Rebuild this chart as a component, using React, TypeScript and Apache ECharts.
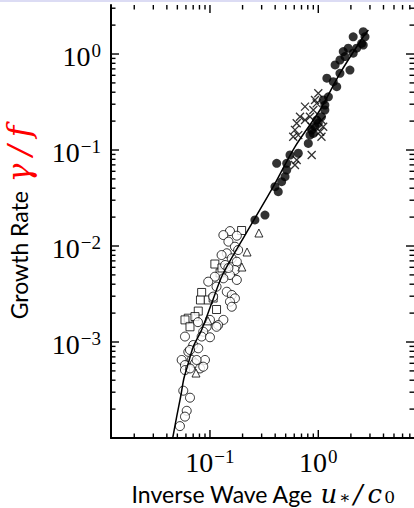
import React, { useEffect, useRef } from "react";
import * as echarts from "echarts";

// ---- axis extents (data units) ----
const X_MIN = 0.0122;
const X_MAX = 7.65;
const Y_MIN = 1e-4;
const Y_MAX = 3.24;

// ---- tick positions / labels ----
const xMajorTicks = [0.1, 1];
const xMinorTicks = [0.02, 0.03, 0.04, 0.05, 0.06, 0.07, 0.08, 0.09, 0.2, 0.3, 0.4, 0.5, 0.6, 0.7, 0.8, 0.9, 2, 3, 4, 5, 6, 7];
const yMajorTicks = [1e-3, 1e-2, 1e-1, 1];
const yMinorTicks = [
  2e-4, 3e-4, 4e-4, 5e-4, 6e-4, 7e-4, 8e-4, 9e-4,
  2e-3, 3e-3, 4e-3, 5e-3, 6e-3, 7e-3, 8e-3, 9e-3,
  2e-2, 3e-2, 4e-2, 5e-2, 6e-2, 7e-2, 8e-2, 9e-2,
  0.2, 0.3, 0.4, 0.5, 0.6, 0.7, 0.8, 0.9, 2, 3,
];
const xLabelExponents = [-1, 0];
const yLabelExponents = [-3, -2, -1, 0];

// ---- data series [u*/c0, gamma/f] ----
const filledCircles = [
  [2.6, 1.71], [2.7, 1.51], [2.1, 1.51], [2.6, 1.24], [2.26, 1.15], [2.1, 1.02], [1.7, 1.06],
  [1.76, 0.94], [1.96, 0.68], [1.585, 0.63], [1.43, 0.77], [1.2, 0.56], [1.375, 0.515], [1.48, 0.457],
  [1.24, 0.358], [1.15, 0.294], [1.15, 0.261], [1.07, 0.222], [0.966, 0.205], [0.933, 0.175],
  [0.869, 0.162], [0.838, 0.143], [0.809, 0.117], [0.654, 0.0925], [0.548, 0.0887], [0.413, 0.0727],
  [0.511, 0.0727], [0.511, 0.0619], [0.493, 0.0527], [0.459, 0.0468], [0.398, 0.0415], [0.427, 0.0368],
  [0.26, 0.0187], [0.322, 0.021], [1.89, 1.15], [2.51, 1.29], [1.585, 0.866], [1.11, 0.332],
  [1.0, 0.19], [0.9, 0.149],
];
const crosses = [
  [1.0, 0.39], [0.933, 0.332], [0.966, 0.306], [0.754, 0.283], [0.678, 0.222], [0.632, 0.19],
  [0.754, 0.205], [0.609, 0.162], [0.654, 0.143], [0.587, 0.1375], [1.07, 0.205], [1.11, 0.175],
  [1.04, 0.155], [1.07, 0.1375], [0.869, 0.0887], [0.632, 0.0787], [0.609, 0.0698], [0.838, 0.222],
  [0.869, 0.175], [0.9, 0.261],
];
const openCircles = [
  [0.153, 0.0143], [0.133, 0.013], [0.177, 0.0128], [0.148, 0.0111], [0.17, 0.00984], [0.143, 0.0084],
  [0.128, 0.00805], [0.159, 0.00744], [0.177, 0.00686], [0.138, 0.00634], [0.17, 0.00562], [0.153, 0.00499],
  [0.177, 0.00443], [0.133, 0.00461], [0.111, 0.00479], [0.0964, 0.00425], [0.115, 0.00377], [0.107, 0.00297],
  [0.143, 0.00334], [0.159, 0.00309], [0.17, 0.00285], [0.153, 0.00263], [0.159, 0.00233], [0.133, 0.0017],
  [0.119, 0.0015], [0.1, 0.0017], [0.0933, 0.00144], [0.0867, 0.00128], [0.0838, 0.00114], [0.1, 0.00112],
  [0.0588, 0.00114], [0.0701, 0.00093], [0.0631, 0.00079], [0.078, 0.00086], [0.0548, 0.00065], [0.0678, 0.00065],
  [0.0588, 0.000575], [0.0727, 0.0006], [0.0588, 0.00051], [0.0654, 0.00053], [0.0809, 0.00053], [0.0899, 0.00065],
  [0.0867, 0.000553], [0.0654, 0.000826], [0.0567, 0.000311], [0.0654, 0.000263], [0.061, 0.000192],
  [0.0588, 0.000167], [0.0528, 0.000133], [0.0753, 0.00065], [0.0775, 0.00161], [0.115, 0.00144],
  [0.182, 0.00908], [0.148, 0.0059],
];
const openSquares = [
  [0.196, 0.0145], [0.111, 0.00649], [0.124, 0.00524], [0.0838, 0.00328], [0.0817, 0.00274], [0.0964, 0.00274],
  [0.107, 0.00287], [0.115, 0.00218], [0.078, 0.0021], [0.063, 0.00177], [0.0727, 0.00184], [0.0588, 0.0017],
  [0.0654, 0.00144], [0.129, 0.0059],
];
const openTriangles = [
  [0.283, 0.01366], [0.22, 0.00866], [0.197, 0.00604], [0.0959, 0.00166], [0.0743, 0.000475],
];
const fitCurve = [
  [0.0453, 1e-4], [0.0493, 1.67e-4], [0.0536, 2.69e-4], [0.0575, 4.19e-4], [0.0631, 6.0e-4],
  [0.0701, 8.93e-4], [0.0835, 1.33e-3], [0.1037, 2.53e-3], [0.1327, 5.2e-3], [0.2548, 0.01866],
  [0.384, 0.0415], [0.609, 0.108], [1.037, 0.261], [1.585, 0.629], [2.6, 1.514], [2.9, 1.778],
];

const SERIF = "'Liberation Serif', 'DejaVu Serif', serif";
const MATH = "'DejaVu Serif', 'Liberation Serif', serif";
const SANS = "Lato, 'Liberation Sans', Arial, sans-serif";

function powLabel(v: number, allowed: number[]) {
  const e = Math.log10(v);
  const r = Math.round(e);
  if (Math.abs(e - r) > 1e-6 || allowed.indexOf(r) < 0) return "";
  const exp = r < 0 ? "\u2212" + String(-r) : String(r);
  return "{b|10}{s|" + exp + "}";
}

const labelRich = {
  b: { fontFamily: SERIF, fontSize: 28, color: "#000", padding: [5, 1, 0, 0] },
  s: { fontFamily: SERIF, fontSize: 19, color: "#000", padding: [0, 0, 7, 0] },
};

function tickSeries(values: number[], isX: boolean, len: number) {
  return {
    type: "custom",
    xAxisIndex: 0,
    yAxisIndex: 0,
    silent: true,
    clip: false,
    z: 20,
    data: values.map((v) => (isX ? [v, Y_MIN] : [X_MIN, v])),
    renderItem: (params: any, api: any) => {
      const style = { stroke: "#000", lineWidth: 1.4 };
      if (isX) {
        const v = api.value(0);
        const b = api.coord([v, Y_MIN]);
        const t = api.coord([v, Y_MAX]);
        return {
          type: "group",
          children: [
            { type: "line", shape: { x1: b[0], y1: b[1], x2: b[0], y2: b[1] - len }, style },
            { type: "line", shape: { x1: t[0], y1: t[1], x2: t[0], y2: t[1] + len }, style },
          ],
        };
      }
      const v = api.value(1);
      const l = api.coord([X_MIN, v]);
      const r = api.coord([X_MAX, v]);
      return {
        type: "group",
        children: [
          { type: "line", shape: { x1: l[0], y1: l[1], x2: l[0] + len, y2: l[1] }, style },
          { type: "line", shape: { x1: r[0], y1: r[1], x2: r[0] - len, y2: r[1] }, style },
        ],
      };
    },
  };
}

export default function App() {
  const ref = useRef<HTMLDivElement>(null);
  useEffect(() => {
    if (!ref.current) return;
    const chart = echarts.init(ref.current, undefined, { renderer: "svg" });
    const option: any = {
      animation: false,
      backgroundColor: "#fff",
      grid: { left: 111, top: 5, width: 303, height: 433, containLabel: false },
      xAxis: [
        {
          type: "log",
          logBase: 10,
          min: X_MIN,
          max: X_MAX,
          position: "bottom",
          axisLine: { show: true, onZero: false, lineStyle: { color: "#000", width: 2 } },
          axisTick: { show: false },
          minorTick: { show: false },
          splitLine: { show: false },
          axisLabel: {
            margin: 5,
            formatter: (v: number) => powLabel(v, xLabelExponents),
            rich: labelRich,
            showMinLabel: false,
            showMaxLabel: false,
          },
        },
      ],
      yAxis: [
        {
          type: "log",
          logBase: 10,
          min: Y_MIN,
          max: Y_MAX,
          axisLine: { show: true, onZero: false, lineStyle: { color: "#000", width: 2 } },
          axisTick: { show: false },
          minorTick: { show: false },
          splitLine: { show: false },
          axisLabel: {
            margin: 10,
            formatter: (v: number) => powLabel(v, yLabelExponents),
            rich: labelRich,
            showMinLabel: false,
            showMaxLabel: false,
          },
        },
      ],
      graphic: [
        { type: "rect", shape: { x: 0, y: 0, width: 414, height: 2 }, style: { fill: "#dcdcf4" } },
        {
          type: "text",
          x: 263,
          y: 494,
          style: {
            text: "{t|Inverse Wave Age }{m|u}{sb|\u2217}{sl|/}{m|c}{sb|0}",
            align: "center",
            verticalAlign: "middle",
            rich: {
              t: { fontFamily: SANS, fontSize: 23, fill: "#000" },
              m: { fontFamily: MATH, fontStyle: "italic", fontSize: 26, fill: "#000", padding: [0, 2, 0, 2] },
              sl: { fontFamily: MATH, fontStyle: "italic", fontSize: 26, fill: "#000", padding: [0, 3, 0, 3] },
              sb: { fontFamily: MATH, fontSize: 17, fill: "#000", padding: [6, 0, 0, 0] },
            },
          },
        },
        {
          type: "text",
          x: 19,
          y: 221,
          rotation: Math.PI / 2,
          style: {
            text: "{t|Growth Rate }{m|\u03b3}{sl|/}{m|f}",
            align: "center",
            verticalAlign: "middle",
            rich: {
              t: { fontFamily: SANS, fontSize: 23, fill: "#000" },
              m: { fontFamily: MATH, fontStyle: "italic", fontSize: 31, fill: "#ff0000", padding: [0, 3, 0, 3] },
              sl: { fontFamily: MATH, fontStyle: "italic", fontSize: 31, fill: "#ff0000", padding: [0, 5, 0, 5] },
            },
          },
        },
      ],
      series: [
        {
          type: "scatter",
          data: openSquares,
          symbol: "rect",
          symbolSize: 8,
          itemStyle: { color: "#fff", borderColor: "#000", borderWidth: 1 },
          z: 3,
        },
        {
          type: "scatter",
          data: openCircles,
          symbol: "circle",
          symbolSize: 9,
          itemStyle: { color: "#fff", borderColor: "#000", borderWidth: 1 },
          z: 4,
        },
        {
          type: "scatter",
          data: openTriangles,
          symbol: "triangle",
          symbolSize: 8,
          itemStyle: { color: "#fff", borderColor: "#000", borderWidth: 1 },
          z: 4,
        },
        {
          type: "scatter",
          data: crosses,
          symbol: "path://M0,0L10,10M10,0L0,10",
          symbolSize: 8,
          itemStyle: { color: "none", borderColor: "#000", borderWidth: 1.3 },
          z: 5,
        },
        {
          type: "scatter",
          data: filledCircles,
          symbol: "circle",
          symbolSize: 9,
          itemStyle: { color: "#000" },
          z: 6,
        },
        {
          type: "line",
          data: fitCurve,
          smooth: 0.3,
          showSymbol: false,
          symbol: "none",
          lineStyle: { color: "#000", width: 1.5 },
          z: 7,
          clip: true,
        },
        tickSeries(xMajorTicks, true, 8),
        tickSeries(xMinorTicks, true, 4.5),
        tickSeries(yMajorTicks, false, 8),
        tickSeries(yMinorTicks, false, 4.5),
      ],
    };
    chart.setOption(option);
    return () => chart.dispose();
  }, []);
  return (
    <div
      ref={ref}
      style={{ position: "fixed", left: 0, top: 0, width: 414, height: 508, background: "#fff" }}
    />
  );
}
